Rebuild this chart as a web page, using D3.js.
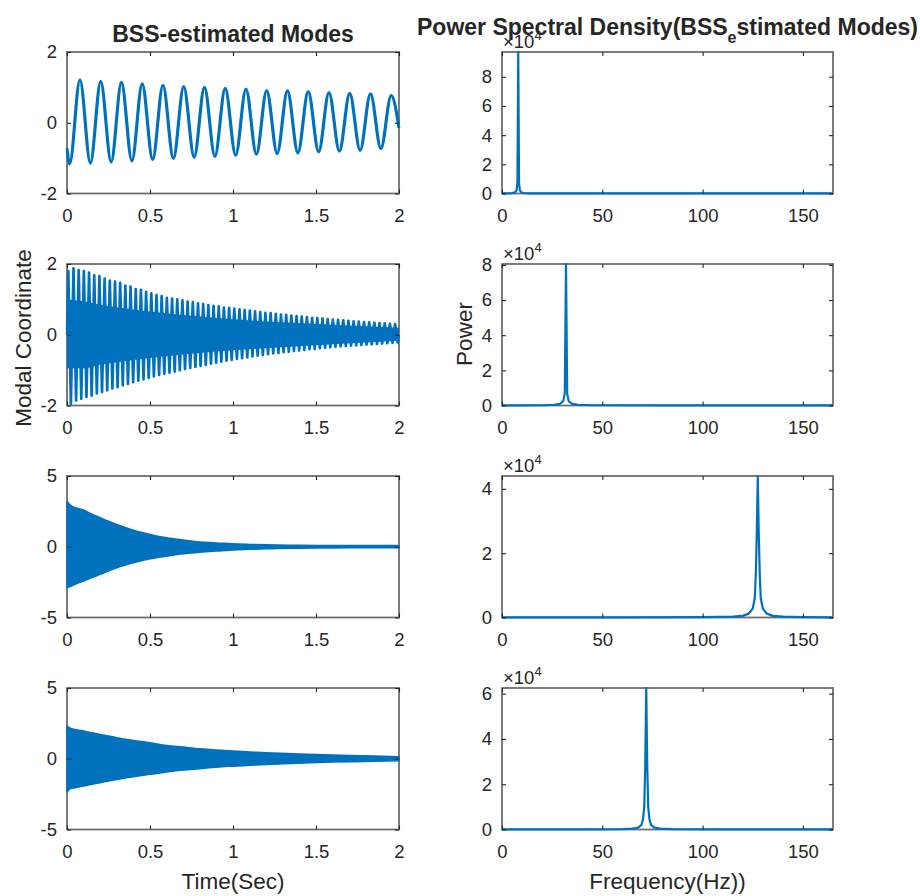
<!DOCTYPE html>
<html>
<head>
<meta charset="utf-8">
<script src="https://cdn.jsdelivr.net/npm/d3@7"></script>
<style>
  body { margin: 0; background: #ffffff; }
  svg { display: block; }
  text { font-family: "Liberation Sans", Arial, Helvetica, sans-serif; fill: #262626; }
</style>
</head>
<body>
<svg id="chart" width="920" height="896"></svg>
<script>
// ---------------- DATA ----------------
const timeTicks = [0, 0.5, 1, 1.5, 2];
const freqTicks = [0, 50, 100, 150];
const modeYTicks = [[-2, 0, 2], [-2, 0, 2], [-5, 0, 5], [-5, 0, 5]];
const modeYDomain = [[-2, 2], [-2, 2], [-5, 5], [-5, 5]];
const psdYTicks = [[0, 20000, 40000, 60000, 80000], [0, 20000, 40000, 60000, 80000], [0, 20000, 40000], [0, 20000, 40000, 60000]];
const psdYMax = [97000, 80500, 44000, 62500];
const freqMax = 165;

// Mode 1: extrema of the ~8 Hz oscillation (time s, value)
const mode1Time = [0, 0.016, 0.078, 0.141, 0.203, 0.266, 0.328, 0.391, 0.453, 0.516, 0.578, 0.641, 0.703, 0.766, 0.828, 0.891, 0.953, 1.016, 1.078, 1.141, 1.203, 1.266, 1.328, 1.391, 1.453, 1.516, 1.578, 1.641, 1.703, 1.766, 1.828, 1.891, 1.953, 2.0];
const mode1Value = [-0.72, -1.16, 1.21, -1.14, 1.17, -1.11, 1.14, -1.08, 1.10, -1.04, 1.06, -1.01, 1.02, -0.97, 1.00, -0.95, 0.97, -0.92, 0.95, -0.89, 0.91, -0.87, 0.90, -0.85, 0.88, -0.82, 0.85, -0.80, 0.83, -0.78, 0.82, -0.73, 0.77, -0.15];

// Mode 2: per-cycle peaks and troughs of the ~32 Hz oscillation over 0-2 s
const mode2Peaks = [1.80, 1.88, 1.83, 1.80, 1.76, 1.68, 1.66, 1.59, 1.53, 1.50, 1.47, 1.39, 1.36, 1.29, 1.27, 1.21, 1.17, 1.12, 1.09, 1.04, 1.02, 1.00, 0.97, 0.94, 0.92, 0.89, 0.87, 0.84, 0.82, 0.80, 0.77, 0.76, 0.74, 0.72, 0.70, 0.68, 0.66, 0.64, 0.62, 0.61, 0.59, 0.57, 0.56, 0.54, 0.53, 0.51, 0.50, 0.48, 0.47, 0.46, 0.44, 0.43, 0.42, 0.41, 0.39, 0.38, 0.37, 0.36, 0.35, 0.34, 0.33, 0.32, 0.31, 0.30];
const mode2Troughs = [-1.95, -1.86, -1.81, -1.76, -1.72, -1.66, -1.62, -1.57, -1.52, -1.48, -1.43, -1.39, -1.34, -1.30, -1.26, -1.22, -1.18, -1.14, -1.11, -1.07, -1.04, -1.00, -0.97, -0.94, -0.91, -0.88, -0.85, -0.82, -0.79, -0.76, -0.73, -0.71, -0.68, -0.66, -0.64, -0.61, -0.59, -0.57, -0.55, -0.53, -0.51, -0.49, -0.48, -0.46, -0.44, -0.43, -0.41, -0.40, -0.38, -0.37, -0.36, -0.34, -0.33, -0.32, -0.31, -0.30, -0.29, -0.28, -0.27, -0.26, -0.25, -0.24, -0.23, -0.22];
// Mode 2: the solid core of the dense trace (where strokes overlap)
const mode2CoreTime = [0, 0.1, 0.2, 0.3, 0.5, 0.7, 1.0, 1.3, 1.6, 2.0];
const mode2CoreUpper = [1.0, 0.95, 0.85, 0.78, 0.66, 0.56, 0.44, 0.35, 0.28, 0.2];
const mode2CoreLower = [-0.95, -0.95, -0.85, -0.78, -0.66, -0.56, -0.44, -0.35, -0.27, -0.17];

// Modes 3 and 4: upper / lower envelope of the dense oscillation
const envTime = [0, 0.02, 0.05, 0.1, 0.15, 0.2, 0.25, 0.3, 0.4, 0.5, 0.6, 0.7, 0.8, 0.9, 1.0, 1.1, 1.2, 1.4, 1.6, 1.8, 2.0];
const mode3Upper = [3.2, 2.95, 2.75, 2.6, 2.3, 2.05, 1.8, 1.57, 1.17, 0.87, 0.63, 0.47, 0.33, 0.27, 0.2, 0.16, 0.13, 0.1, 0.09, 0.08, 0.08];
const mode3Lower = [-2.9, -2.8, -2.65, -2.42, -2.18, -1.95, -1.7, -1.48, -1.13, -0.85, -0.66, -0.49, -0.38, -0.3, -0.23, -0.18, -0.14, -0.1, -0.08, -0.07, -0.07];
const mode4Upper = [2.3, 2.15, 2.07, 1.95, 1.83, 1.71, 1.6, 1.48, 1.29, 1.13, 0.94, 0.82, 0.7, 0.61, 0.54, 0.48, 0.42, 0.33, 0.26, 0.21, 0.14];
const mode4Lower = [-2.35, -2.1, -2.04, -1.92, -1.8, -1.69, -1.57, -1.46, -1.27, -1.1, -0.94, -0.8, -0.7, -0.59, -0.52, -0.46, -0.4, -0.31, -0.23, -0.19, -0.14];

// Power spectral densities (frequency Hz, power)
const psd1Freq = [0, 3, 5, 6.5, 7.3, 7.7, 8.1, 8.5, 8.9, 9.7, 11, 14, 30, 80, 165];
const psd1Power = [100, 150, 300, 800, 2500, 8000, 97000, 7000, 2200, 700, 300, 150, 80, 40, 20];
const psd2Freq = [0, 10, 20, 26, 29, 30.5, 31.3, 31.9, 32.5, 33.3, 35, 38, 45, 80, 165];
const psd2Power = [50, 80, 150, 400, 1000, 2500, 7000, 80500, 6500, 2300, 900, 400, 150, 60, 30];
const psd3Freq = [0, 60, 100, 115, 120, 123, 125, 126, 126.5, 127, 127.5, 128, 128.5, 129, 130, 132, 135, 140, 150, 165];
const psd3Power = [20, 40, 100, 250, 500, 1200, 2800, 6000, 13000, 26000, 44000, 26000, 13000, 6000, 2800, 1200, 500, 250, 100, 40];
const psd4Freq = [0, 40, 60, 65, 68, 69.5, 70.3, 70.9, 71.4, 71.9, 72.4, 72.9, 73.5, 74.3, 75.8, 79, 85, 110, 165];
const psd4Power = [20, 60, 150, 400, 900, 2000, 4500, 10000, 28000, 62500, 28000, 10000, 4500, 2000, 900, 400, 150, 60, 20];

const titleLeft = "BSS-estimated Modes";
const xLabelLeft = "Time(Sec)";
const yLabelLeft = "Modal Coordinate";
const xLabelRight = "Frequency(Hz))";
const yLabelRight = "Power";

// ---------------- LAYOUT ----------------
const BLUE = "#0072BD";
const leftX = [67, 399];
const rightX = [502, 833];
const rowTops = [52, 264, 476, 688];
const rowH = 141.5;
const FS_TICK = 18.5, FS_LABEL = 22.5, FS_TITLE = 23;

const svg = d3.select("#chart");
const defs = svg.append("defs");

function panel(id, xr, top, xDomain, yDomain, xTicks, yTicks, yFmt) {
  const x = d3.scaleLinear().domain(xDomain).range(xr);
  const y = d3.scaleLinear().domain(yDomain).range([top + rowH, top]);
  const g = svg.append("g");
  defs.append("clipPath").attr("id", id).append("rect")
    .attr("x", xr[0] - 1.5).attr("y", top - 1).attr("width", xr[1] - xr[0] + 3).attr("height", rowH + 2.5);
  g.append("rect").attr("x", xr[0]).attr("y", top).attr("width", xr[1] - xr[0]).attr("height", rowH)
    .attr("fill", "none").attr("stroke", "#6e6e6e").attr("stroke-width", 1.8);
  const data = g.append("g").attr("clip-path", `url(#${id})`);
  const styleAxis = a => {
    a.select(".domain").remove();
    a.selectAll(".tick line").attr("stroke", "#262626").attr("stroke-width", 1.1);
    a.selectAll(".tick text").attr("font-size", FS_TICK).attr("fill", "#262626")
      .attr("font-family", '"Liberation Sans", Arial, Helvetica, sans-serif');
  };
  g.append("g").attr("transform", `translate(0,${top + rowH})`)
    .call(d3.axisBottom(x).tickValues(xTicks).tickSize(-4).tickPadding(15.4).tickFormat(d => String(d)))
    .call(styleAxis);
  g.append("g").attr("transform", `translate(0,${top})`)
    .call(d3.axisTop(x).tickValues(xTicks).tickSize(-4).tickFormat(""))
    .call(styleAxis);
  g.append("g").attr("transform", `translate(${xr[0]},0)`)
    .call(d3.axisLeft(y).tickValues(yTicks).tickSize(-4).tickPadding(10).tickFormat(yFmt))
    .call(styleAxis);
  g.append("g").attr("transform", `translate(${xr[1]},0)`)
    .call(d3.axisRight(y).tickValues(yTicks).tickSize(-4).tickFormat(""))
    .call(styleAxis);
  return { x, y, data, g };
}

// ---------- Left column: modes in time ----------
const fmtPlain = d => String(d);

// Row 1
{
  const p = panel("c1", leftX, rowTops[0], [0, 2], modeYDomain[0], timeTicks, modeYTicks[0], fmtPlain);
  const pts = mode1Time.map((t, i) => [t, mode1Value[i]]);
  p.data.append("path").datum(pts)
    .attr("d", d3.line().x(d => p.x(d[0])).y(d => p.y(d[1])).curve(d3.curveMonotoneX))
    .attr("fill", "none").attr("stroke", BLUE).attr("stroke-width", 3.2).attr("stroke-linejoin", "round");
}
// Row 2
{
  const p = panel("c2", leftX, rowTops[1], [0, 2], modeYDomain[1], timeTicks, modeYTicks[1], fmtPlain);
  const core = mode2CoreTime.map((t, i) => [t, mode2CoreUpper[i], mode2CoreLower[i]]);
  p.data.append("path").datum(core)
    .attr("d", d3.area().x(d => p.x(d[0])).y0(d => p.y(d[2])).y1(d => p.y(d[1])).curve(d3.curveMonotoneX))
    .attr("fill", BLUE);
  const n = mode2Peaks.length;
  const cyc = d3.scaleLinear().domain([0, n]).range([0, 2]);
  const pts = [[0, 0]];
  mode2Peaks.forEach((v, i) => {
    pts.push([cyc(i + 0.25), v]);
    pts.push([cyc(i + 0.75), mode2Troughs[i]]);
  });
  pts.push([2, 0]);
  p.data.append("path").datum(pts)
    .attr("d", d3.line().x(d => p.x(d[0])).y(d => p.y(d[1])))
    .attr("fill", "none").attr("stroke", BLUE).attr("stroke-width", 2.7).attr("stroke-linejoin", "round");
}
// Rows 3, 4
[[mode3Upper, mode3Lower], [mode4Upper, mode4Lower]].forEach((env, k) => {
  const r = k + 2;
  const p = panel("c" + (r + 1), leftX, rowTops[r], [0, 2], modeYDomain[r], timeTicks, modeYTicks[r], fmtPlain);
  const pts = envTime.map((t, i) => [t, env[0][i], env[1][i]]);
  p.data.append("path").datum(pts)
    .attr("d", d3.area().x(d => p.x(d[0])).y0(d => p.y(d[2])).y1(d => p.y(d[1])).curve(d3.curveMonotoneX))
    .attr("fill", BLUE).attr("stroke", BLUE).attr("stroke-width", 1.6).attr("stroke-linejoin", "round");
});

// ---------- Right column: PSD ----------
const psdF = [psd1Freq, psd2Freq, psd3Freq, psd4Freq];
const psdP = [psd1Power, psd2Power, psd3Power, psd4Power];
const fmtE4 = d => String(d / 1e4);
psdF.forEach((fr, r) => {
  const p = panel("p" + (r + 1), rightX, rowTops[r], [0, freqMax], [0, psdYMax[r]], freqTicks, psdYTicks[r], fmtE4);
  const pts = fr.map((f, i) => [f, psdP[r][i]]);
  p.data.append("path").datum(pts)
    .attr("d", d3.line().x(d => p.x(d[0])).y(d => p.y(d[1])))
    .attr("fill", "none").attr("stroke", BLUE).attr("stroke-width", 2.2).attr("stroke-linejoin", "round");
  // exponent label  ×10^4
  const t = svg.append("text").attr("x", rightX[0] + 1).attr("y", rowTops[r] - 4)
    .attr("font-size", FS_TICK);
  t.append("tspan").text("\u00D710");
  t.append("tspan").attr("font-size", 13).attr("dy", -8).text("4");
});

// ---------- Titles and labels ----------
svg.append("text").attr("x", (leftX[0] + leftX[1]) / 2).attr("y", 42)
  .attr("text-anchor", "middle").attr("font-size", FS_TITLE).attr("font-weight", "bold").attr("fill", "#000")
  .text(titleLeft);
{
  const t = svg.append("text").attr("x", (rightX[0] + rightX[1]) / 2).attr("y", 35)
    .attr("text-anchor", "middle").attr("font-size", FS_TITLE).attr("font-weight", "bold").attr("fill", "#000");
  t.append("tspan").text("Power Spectral Density(BSS");
  t.append("tspan").attr("font-size", 16).attr("dy", 8).text("e");
  t.append("tspan").attr("dy", -8).text("stimated Modes)");
}
svg.append("text").attr("x", (leftX[0] + leftX[1]) / 2).attr("y", 889)
  .attr("text-anchor", "middle").attr("font-size", FS_LABEL).text(xLabelLeft);
svg.append("text").attr("x", (rightX[0] + rightX[1]) / 2).attr("y", 889)
  .attr("text-anchor", "middle").attr("font-size", FS_LABEL).text(xLabelRight);
svg.append("text").attr("transform", "translate(30.5,338) rotate(-90)")
  .attr("text-anchor", "middle").attr("font-size", FS_LABEL).text(yLabelLeft);
svg.append("text").attr("transform", "translate(472,334) rotate(-90)")
  .attr("text-anchor", "middle").attr("font-size", FS_LABEL).text(yLabelRight);
</script>
</body>
</html>
